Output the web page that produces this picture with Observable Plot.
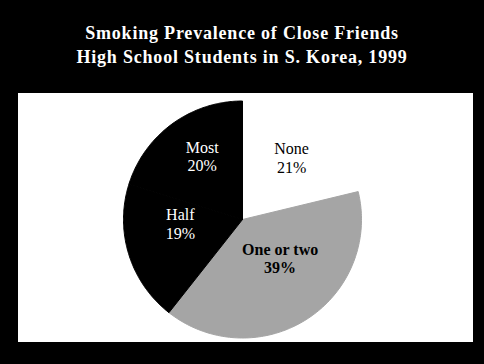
<!DOCTYPE html>
<html><head><meta charset="utf-8">
<script src="https://cdn.jsdelivr.net/npm/d3@7"></script>
<script src="https://cdn.jsdelivr.net/npm/@observablehq/plot@0.6"></script>
<style>
html,body{margin:0;padding:0;background:#000;}
#wrap{position:relative;width:484px;height:364px;background:#000;overflow:hidden;}
#title{position:absolute;left:0;top:21px;width:484px;text-align:center;color:#fff;font-family:"Liberation Serif","Times New Roman",serif;font-weight:bold;font-size:18px;line-height:24px;letter-spacing:0.8px;white-space:nowrap;}
#panel{position:absolute;left:18px;top:93px;width:455px;height:249px;background:#fff;}
#panel svg{display:block;}
</style></head><body>
<div id="wrap">
<div id="title">Smoking Prevalence of Close Friends<br>High School Students in S. Korea, 1999</div>
<div id="panel"></div>
</div>
<script>
// Data
const categories = ["None", "One or two", "Half", "Most"];
const percents = [21, 39, 19, 20];

// Styling (not data)
const sliceColors = {"None": "#ffffff", "One or two": "#a5a5a5", "Half": "#000000", "Most": "#000000"};
const textColors = {"None": "#000000", "One or two": "#000000", "Half": "#ffffff", "Most": "#ffffff"};
const textWeights = {"None": "normal", "One or two": "bold", "Half": "normal", "Most": "normal"};
const nudges = {"None": [5, -6], "One or two": [-1, -21], "Half": [6, -17], "Most": [2, -6]};

const data = categories.map((c, i) => ({name: c, pct: percents[i]}));
const arcs = d3.pie().sort(null).value(d => d.pct)(data);

// polygon points for each slice (unit circle, angle 0 at top, clockwise)
const pts = [];
for (const a of arcs) {
  const n = 120;
  pts.push({name: a.data.name, x: 0, y: 0});
  for (let k = 0; k <= n; k++) {
    const t = a.startAngle + (a.endAngle - a.startAngle) * k / n;
    pts.push({name: a.data.name, x: Math.sin(t), y: Math.cos(t)});
  }
  pts.push({name: a.data.name, x: 0, y: 0});
}

const labelR = 0.6;
const labels = arcs.map(a => {
  const m = (a.startAngle + a.endAngle) / 2;
  return {name: a.data.name, text: a.data.name + "\n" + a.data.pct + "%", x: labelR * Math.sin(m), y: labelR * Math.cos(m)};
});

const textMarks = categories.map(c => Plot.text(labels.filter(d => d.name === c), {
  x: "x", y: "y", text: "text",
  fill: textColors[c], fontWeight: textWeights[c],
  fontSize: 16, lineHeight: 1.15,
  dx: nudges[c][0], dy: nudges[c][1]
}));

const chart = Plot.plot({
  width: 455, height: 249,
  marginLeft: 105, marginRight: 112, marginTop: 7.5, marginBottom: 4.5,
  x: {domain: [-1, 1], axis: null},
  y: {domain: [-1, 1], axis: null},
  style: {background: "#fff", fontFamily: "'Liberation Serif', 'Times New Roman', serif", overflow: "visible"},
  marks: [
    Plot.line(pts, {x: "x", y: "y", z: "name", fill: d => sliceColors[d.name], stroke: d => sliceColors[d.name], strokeWidth: 1, strokeLinejoin: "round", curve: "linear"}),
    ...textMarks
  ]
});
document.getElementById("panel").appendChild(chart);
</script>
</body></html>
